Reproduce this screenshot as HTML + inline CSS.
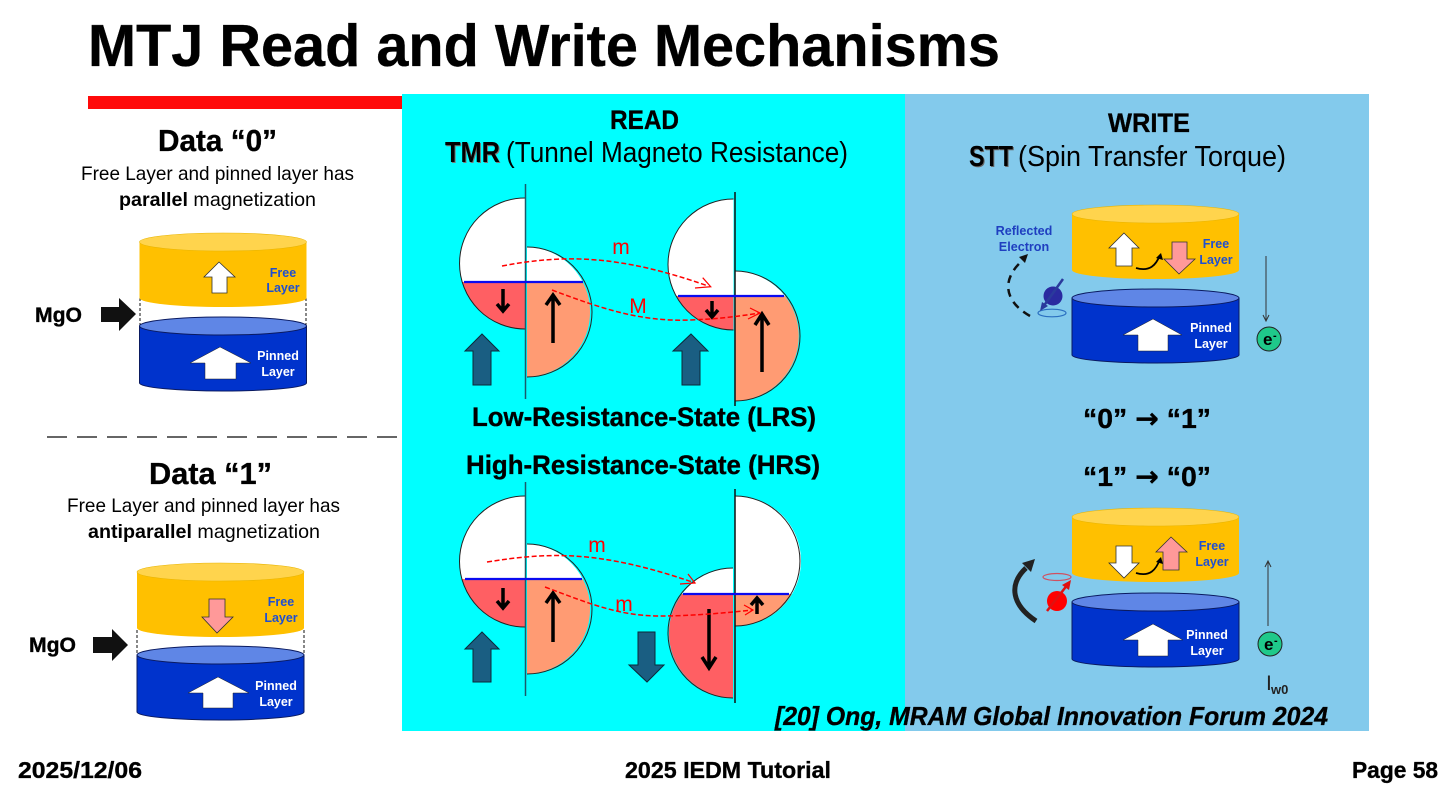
<!DOCTYPE html>
<html>
<head>
<meta charset="utf-8">
<style>
html,body{margin:0;padding:0;background:#fff;width:1456px;height:789px;overflow:hidden}
svg{display:block;filter:blur(.35px)}
text{font-family:"Liberation Sans",sans-serif;fill:#000}
.b{font-weight:bold}
.h{stroke:#000;stroke-width:.35}
.fl{font-size:12.5px;font-weight:bold;fill:#1f4fd0;text-anchor:middle}
.pl{font-size:12.5px;font-weight:bold;fill:#fff;text-anchor:middle}
.r{font-size:21px;fill:#f00;text-anchor:middle}
.dash{fill:none;stroke:#f00;stroke-width:1.5;stroke-dasharray:5 2.5}
.hd{fill:none;stroke:#f00;stroke-width:1.2}
.ar{fill:none;stroke:#000;stroke-width:3.5}
.big{fill:#1a5e82;stroke:#0a2a3a;stroke-width:1}
.w{fill:#fff;stroke:#333;stroke-width:.8}
.wn{fill:#fff;stroke:#222;stroke-width:.5}
.p{fill:#ff9999;stroke:#333;stroke-width:.8}
.red{fill:#ff5f63}.or{fill:#ff9b73}.wh{fill:#fff}
.o{fill:none;stroke:#222;stroke-width:1}
.bl{stroke:#0a0af0;stroke-width:2.2}
.arw{font-family:"DejaVu Sans",sans-serif;font-weight:bold}
</style>
</head>
<body>
<svg width="1456" height="789" viewBox="0 0 1456 789" xmlns="http://www.w3.org/2000/svg">
<defs>
<g id="free">
<path d="M-83.5 0V56A83.5 9 0 0 0 83.5 56V0Z" fill="#ffc000"/>
<ellipse cx="0" cy="0" rx="83.5" ry="9" fill="#ffd44d" stroke="#e8b400" stroke-width=".6"/>
</g>
<g id="pin">
<path d="M-83.5 0V57A83.5 8 0 0 0 83.5 57V0Z" fill="#0033cc" stroke="#0a1a60" stroke-width="1"/>
<ellipse cx="0" cy="0" rx="83.5" ry="9" fill="#5f86e6" stroke="#0a1a60" stroke-width="1"/>
</g>
</defs>

<rect width="1456" height="789" fill="#fff"/>
<text x="88" y="66" class="b h" font-size="59" textLength="912" lengthAdjust="spacingAndGlyphs">MTJ Read and Write Mechanisms</text>
<rect x="88" y="96" width="314" height="13" fill="#ff0a0a"/>
<rect x="402" y="94" width="503" height="637" fill="#00ffff"/>
<rect x="905" y="94" width="464" height="637" fill="#83caec"/>

<!-- LEFT COLUMN -->
<text x="158" y="151" class="b h" font-size="31" textLength="119" lengthAdjust="spacingAndGlyphs">Data “0”</text>
<text x="81" y="180" font-size="19.5" textLength="273" lengthAdjust="spacingAndGlyphs">Free Layer and pinned layer has</text>
<text x="119" y="206" font-size="19.5" textLength="197" lengthAdjust="spacingAndGlyphs"><tspan class="b">parallel</tspan> magnetization</text>

<path d="M140 298V326M306 298V326" stroke="#111" stroke-width="1" stroke-dasharray="3 2" fill="none"/>
<use href="#pin" x="223" y="326"/>
<use href="#free" x="223" y="242"/>
<polygon class="w" points="219,262 235,277 227,277 227,293 212,293 212,277 204,277"/>
<polygon class="wn" points="220,347 251,363 236,363 236,379 205,379 205,363 190,363"/>
<text x="283" y="277" class="fl">Free</text><text x="283" y="292" class="fl">Layer</text>
<text x="278" y="360" class="pl">Pinned</text><text x="278" y="376" class="pl">Layer</text>
<text x="35" y="322" class="b h" font-size="21" textLength="47" lengthAdjust="spacingAndGlyphs">MgO</text>
<polygon fill="#111" points="101,307 119,307 119,298 136,314 119,331 119,322 101,322"/>

<line x1="47" y1="437" x2="397" y2="437" stroke="#666" stroke-width="2" stroke-dasharray="20 10"/>

<text x="149" y="484" class="b h" font-size="31" textLength="123" lengthAdjust="spacingAndGlyphs">Data “1”</text>
<text x="67" y="512" font-size="19.5" textLength="273" lengthAdjust="spacingAndGlyphs">Free Layer and pinned layer has</text>
<text x="88" y="538" font-size="19.5" textLength="232" lengthAdjust="spacingAndGlyphs"><tspan class="b">antiparallel</tspan> magnetization</text>

<path d="M137 630V655M304 630V655" stroke="#111" stroke-width="1" stroke-dasharray="3 2" fill="none"/>
<use href="#pin" x="220.5" y="655"/>
<use href="#free" x="220.5" y="572"/>
<polygon class="p" points="209,599 225,599 225,617 233,617 217,633 202,617 209,617"/>
<polygon class="wn" points="218,677 249,693 233,693 233,708 203,708 203,693 188,693"/>
<text x="281" y="606" class="fl">Free</text><text x="281" y="622" class="fl">Layer</text>
<text x="276" y="690" class="pl">Pinned</text><text x="276" y="706" class="pl">Layer</text>
<text x="29" y="652" class="b h" font-size="21" textLength="47" lengthAdjust="spacingAndGlyphs">MgO</text>
<polygon fill="#111" points="93,637 112,637 112,629 128,645 112,661 112,653 93,653"/>

<!-- READ -->
<text x="610" y="129" class="b h" font-size="27" textLength="69" lengthAdjust="spacingAndGlyphs">READ</text>
<text x="446" y="163" class="b" font-size="29" textLength="55" lengthAdjust="spacingAndGlyphs" style="fill:#777">TMR</text>
<text x="445" y="162" class="b" font-size="29" textLength="55" lengthAdjust="spacingAndGlyphs">TMR</text>
<text x="506" y="162" font-size="29" textLength="342" lengthAdjust="spacingAndGlyphs">(Tunnel Magneto Resistance)</text>

<!-- DOS 1 -->
<path class="wh" d="M525 198A65.5 65.5 0 0 0 462.2 282H525Z"/>
<path class="red" d="M525 282H462.2A65.5 65.5 0 0 0 525 329Z"/>
<path class="o" d="M525 198A65.5 65.5 0 0 0 525 329"/>
<path class="wh" d="M527 247A65 65 0 0 1 582.7 282H527Z"/>
<path class="or" d="M527 282H582.7A65 65 0 0 1 527 377Z"/>
<path class="o" d="M527 247A65 65 0 0 1 527 377"/>
<line x1="525.5" y1="184" x2="525.5" y2="399" stroke="#1a5a6a" stroke-width="1.5"/>
<line x1="464" y1="282" x2="583" y2="282" class="bl"/>
<path class="ar" d="M503 289V311M497 304L503 311L509 304"/>
<path class="ar" d="M553 343V295M546 305L553 295L560 305"/>
<polygon class="big" points="482,334 499,351 491,351 491,385 473,385 473,351 465,351"/>

<!-- DOS 2 -->
<path class="wh" d="M733.5 199A65.5 65.5 0 0 0 676 296H733.5Z"/>
<path class="red" d="M733.5 296H676A65.5 65.5 0 0 0 733.5 330Z"/>
<path class="o" d="M733.5 199A65.5 65.5 0 0 0 733.5 330"/>
<path class="wh" d="M735 271A65 65 0 0 1 785 296H735Z"/>
<path class="or" d="M735 296H785A65 65 0 0 1 735 401Z"/>
<path class="o" d="M735 271A65 65 0 0 1 735 401"/>
<line x1="735" y1="192" x2="735" y2="406" stroke="#111" stroke-width="1.5"/>
<line x1="678" y1="296" x2="784" y2="296" class="bl"/>
<path class="ar" d="M712 301V317M706 310L712 317L718 310"/>
<path class="ar" d="M762 372V314M755 325L762 314L769 325"/>
<polygon class="big" points="691,334 708,351 700,351 700,385 682,385 682,351 673,351"/>

<path class="dash" d="M502 266C565 254 620 255 708 286"/>
<path class="hd" d="M702.7 277.7L710.7 286.7L695 288"/>
<text x="621" y="254" class="r">m</text>
<path class="dash" d="M552 290C600 308 640 322 690 320C720 319 740 316 760 313"/>
<path class="hd" d="M750 308L760 313L748 319"/>
<text x="638" y="313" class="r">M</text>

<text x="472" y="426" class="b h" font-size="27" textLength="344" lengthAdjust="spacingAndGlyphs">Low-Resistance-State (LRS)</text>
<text x="466" y="474" class="b h" font-size="27" textLength="354" lengthAdjust="spacingAndGlyphs">High-Resistance-State (HRS)</text>

<!-- DOS 3 -->
<path class="wh" d="M525 496A65.5 65.5 0 0 0 461.9 579H525Z"/>
<path class="red" d="M525 579H461.9A65.5 65.5 0 0 0 525 627Z"/>
<path class="o" d="M525 496A65.5 65.5 0 0 0 525 627"/>
<path class="wh" d="M527 544A65 65 0 0 1 582.7 579H527Z"/>
<path class="or" d="M527 579H582.7A65 65 0 0 1 527 674Z"/>
<path class="o" d="M527 544A65 65 0 0 1 527 674"/>
<line x1="525.5" y1="482" x2="525.5" y2="696" stroke="#1a5a6a" stroke-width="1.5"/>
<line x1="465" y1="579" x2="582" y2="579" class="bl"/>
<path class="ar" d="M503 588V608M497 601L503 608L509 601"/>
<path class="ar" d="M553 642V593M546 603L553 593L560 603"/>
<polygon class="big" points="482,632 499,649 491,649 491,682 473,682 473,649 465,649"/>

<!-- DOS 4 -->
<path class="wh" d="M733 568A65 65 0 0 0 682 594H733Z"/>
<path class="red" d="M733 594H682A65 65 0 0 0 733 698Z"/>
<path class="o" d="M733 568A65 65 0 0 0 733 698"/>
<path class="wh" d="M735 496A65 65 0 0 1 792 594H735Z"/>
<path class="or" d="M735 594H792A65 65 0 0 1 735 626Z"/>
<path class="o" d="M735 496A65 65 0 0 1 735 626"/>
<line x1="735" y1="489" x2="735" y2="703" stroke="#111" stroke-width="1.5"/>
<line x1="683" y1="594" x2="789" y2="594" class="bl"/>
<path class="ar" d="M709 609V668M702 657L709 668L716 657"/>
<path class="ar" d="M757 614V598M751 605L757 598L763 605"/>
<polygon class="big" points="638,632 655,632 655,665 664,665 647,682 629,665 638,665"/>

<path class="dash" d="M487 562C550 552 600 550 695 583"/>
<path class="hd" d="M688 574L695 583L680 584"/>
<text x="597" y="552" class="r">m</text>
<path class="dash" d="M545 587C590 604 620 616 660 616C690 616 725 613 753 610"/>
<path class="hd" d="M744 605L753 610L745 615"/>
<text x="624" y="611" class="r">m</text>

<!-- WRITE -->
<text x="1108" y="132" class="b h" font-size="27" textLength="82" lengthAdjust="spacingAndGlyphs">WRITE</text>
<text x="970" y="167" class="b" font-size="29" textLength="44" lengthAdjust="spacingAndGlyphs" style="fill:#666">STT</text>
<text x="969" y="166" class="b" font-size="29" textLength="44" lengthAdjust="spacingAndGlyphs">STT</text>
<text x="1018" y="166" font-size="29" textLength="268" lengthAdjust="spacingAndGlyphs">(Spin Transfer Torque)</text>

<use href="#pin" x="1155.5" y="298"/>
<use href="#free" x="1155.5" y="214"/>
<polygon class="w" points="1124,233 1139,248 1132,248 1132,266 1116,266 1116,248 1109,248"/>
<polygon class="p" points="1172,242 1187,242 1187,259 1195,259 1179,274 1164,259 1172,259"/>
<path d="M1136 268C1150 272 1156 265 1160 255" fill="none" stroke="#000" stroke-width="1.8"/>
<polygon fill="#000" points="1161,253 1163,260 1156,258"/>
<text x="1216" y="248" class="fl">Free</text><text x="1216" y="264" class="fl">Layer</text>
<polygon class="wn" points="1153,319 1182,335 1168,335 1168,351 1138,351 1138,335 1123,335"/>
<text x="1211" y="332" class="pl">Pinned</text><text x="1211" y="348" class="pl">Layer</text>
<line x1="1266" y1="256" x2="1266" y2="320" stroke="#333" stroke-width="1"/>
<path d="M1263 315L1266 321L1269 315" stroke="#333" stroke-width="1" fill="none"/>
<circle cx="1269" cy="339" r="12" fill="#1fc98a" stroke="#222" stroke-width="1"/>
<text x="1263" y="345" class="b" font-size="17">e</text><text x="1273" y="339" class="b" font-size="11">-</text>
<text x="1024" y="235" font-size="12.6" class="b" text-anchor="middle" style="fill:#1f3fc0">Reflected</text>
<text x="1024" y="251" font-size="12.6" class="b" text-anchor="middle" style="fill:#1f3fc0">Electron</text>
<path d="M1030 316C1005 302 1000 280 1023 260" fill="none" stroke="#111" stroke-width="2.5" stroke-dasharray="8 6"/>
<polygon fill="#111" points="1028,254 1025,263 1019,257"/>
<circle cx="1053" cy="296" r="9.5" fill="#2a2aa0"/>
<ellipse cx="1052" cy="313" rx="14" ry="3.8" fill="none" stroke="#2a6fc0" stroke-width="1.2"/>
<line x1="1063" y1="279" x2="1043" y2="307" stroke="#2a3a9c" stroke-width="2.5"/>
<polygon fill="#2a3a9c" points="1040,311 1042,302 1048,306"/>

<text x="1083" y="428" class="b h" font-size="28" textLength="128" lengthAdjust="spacingAndGlyphs">“0” <tspan class="arw">→</tspan> “1”</text>
<text x="1083" y="486" class="b h" font-size="28" textLength="128" lengthAdjust="spacingAndGlyphs">“1” <tspan class="arw">→</tspan> “0”</text>

<use href="#pin" x="1155.5" y="602"/>
<use href="#free" x="1155.5" y="517"/>
<polygon class="w" points="1116,546 1132,546 1132,563 1139,563 1124,578 1109,563 1116,563"/>
<polygon class="p" points="1171,537 1187,552 1179,552 1179,570 1163,570 1163,552 1156,552"/>
<path d="M1136 573C1150 577 1156 570 1160 559" fill="none" stroke="#000" stroke-width="1.8"/>
<polygon fill="#000" points="1161,557 1163,564 1156,562"/>
<text x="1212" y="550" class="fl">Free</text><text x="1212" y="566" class="fl">Layer</text>
<polygon class="wn" points="1153,624 1183,640 1168,640 1168,656 1138,656 1138,640 1123,640"/>
<text x="1207" y="639" class="pl">Pinned</text><text x="1207" y="655" class="pl">Layer</text>
<line x1="1268" y1="626" x2="1268" y2="562" stroke="#333" stroke-width="1"/>
<path d="M1265 567L1268 561L1271 567" stroke="#333" stroke-width="1" fill="none"/>
<circle cx="1270" cy="644" r="12" fill="#1fc98a" stroke="#222" stroke-width="1"/>
<text x="1264" y="650" class="b" font-size="17">e</text><text x="1274" y="644" class="b" font-size="11">-</text>
<text x="1266" y="690" font-size="21" style="fill:#222">I</text><text x="1271" y="694" font-size="13" class="b" style="fill:#222">w0</text>
<circle cx="1057" cy="601" r="10" fill="#f00"/>
<ellipse cx="1057" cy="577" rx="14" ry="3.5" fill="none" stroke="#d05060" stroke-width="1.2"/>
<line x1="1047" y1="611" x2="1068" y2="584" stroke="#e01010" stroke-width="2.5"/>
<polygon fill="#e01010" points="1071,580 1069,590 1062,585"/>
<path d="M1036 621C1012 605 1008 585 1026 568" fill="none" stroke="#222" stroke-width="5"/>
<polygon fill="#222" points="1035,559 1022,563 1031,572"/>

<text x="775" y="725" class="b h" font-size="26" font-style="italic" textLength="553" lengthAdjust="spacingAndGlyphs">[20] Ong, MRAM Global Innovation Forum 2024</text>
<text x="18" y="778" class="b h" font-size="23" textLength="124" lengthAdjust="spacingAndGlyphs">2025/12/06</text>
<text x="625" y="778" class="b h" font-size="23" textLength="206" lengthAdjust="spacingAndGlyphs">2025 IEDM Tutorial</text>
<text x="1352" y="778" class="b h" font-size="23" textLength="86" lengthAdjust="spacingAndGlyphs">Page 58</text>
</svg>
</body>
</html>
